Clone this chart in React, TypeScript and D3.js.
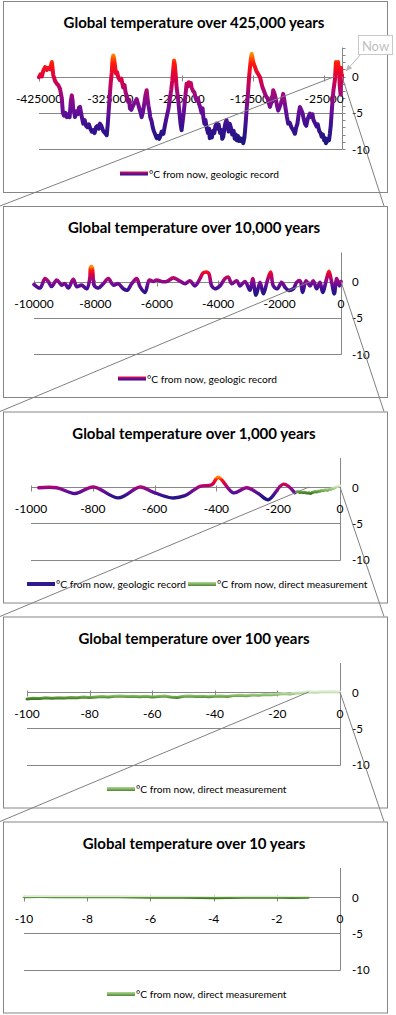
import React from "react";
import * as d3 from "d3";

// ---- data: [years from now, °C from now] ----

// geologic record, 425,000 years
const vostokRecord: [number, number][] = [
  [-425000, -0.1], [-423000, 0.3], [-421000, 0.0], [-419000, 0.8], [-416500, 1.3], [-414000, 0.9],
  [-412000, 1.2], [-409500, 1.0], [-407000, 2.0], [-406000, 1.2], [-405000, 0.2], [-402500, -0.6],
  [-400000, -1.0], [-398000, -1.2], [-395500, -1.7], [-394000, -2.5], [-393000, -3.0], [-391500, -5.0],
  [-390000, -5.4], [-388000, -5.0], [-386000, -5.6], [-384000, -5.2], [-382000, -5.6], [-380500, -3.5],
  [-379000, -2.6], [-378000, -3.2], [-377000, -4.5], [-375500, -5.0], [-374500, -5.6], [-372500, -4.8],
  [-370500, -5.2], [-369000, -4.3], [-367500, -4.2], [-366000, -5.0], [-364500, -5.8], [-363000, -6.5],
  [-361000, -6.0], [-359000, -6.8], [-357000, -7.0], [-355000, -6.6], [-353000, -7.2], [-351000, -7.6],
  [-349000, -7.4], [-347000, -7.8], [-345000, -7.0], [-343000, -6.8], [-341000, -7.2], [-339500, -6.5],
  [-337500, -6.8], [-335000, -7.5], [-332500, -7.8], [-330000, -8.1], [-328500, -6.5], [-326000, -3.0],
  [-324500, -1.0], [-323000, 0.5], [-321800, 2.5], [-320800, 2.9], [-319500, 2.4], [-318500, 1.5],
  [-317000, 0.4], [-315500, 0.6], [-313500, -0.2], [-311500, -0.5], [-309500, -0.3], [-307000, -1.5],
  [-305000, -1.2], [-303500, -2.2], [-302000, -2.6], [-300000, -3.5], [-298500, -3.2], [-297500, -4.4],
  [-295500, -4.6], [-293000, -4.0], [-291000, -3.6], [-289500, -3.4], [-288000, -3.1], [-286000, -3.8],
  [-284000, -4.5], [-282500, -5.0], [-281000, -5.6], [-279000, -4.8], [-277000, -3.5], [-275500, -2.5],
  [-274000, -1.9], [-272800, -3.0], [-271500, -4.0], [-270000, -4.8], [-269000, -5.6], [-267000, -6.2],
  [-265500, -7.0], [-264000, -7.5], [-262000, -8.0], [-260000, -8.5], [-258000, -8.2], [-256500, -8.6],
  [-255000, -8.3], [-253000, -7.6], [-250500, -7.9], [-248500, -6.8], [-246000, -5.6], [-243500, -4.5],
  [-241000, -2.8], [-239500, -1.8], [-238000, -0.5], [-236500, 1.2], [-235500, 2.2], [-234500, 1.6],
  [-233500, 0.5], [-232000, -1.5], [-230000, -3.0], [-228000, -5.0], [-226500, -6.5], [-225000, -7.4],
  [-223500, -6.2], [-222000, -5.0], [-221000, -4.0], [-219500, -2.5], [-218000, -1.0], [-216500, -1.4],
  [-215000, -0.8], [-213500, -1.2], [-212000, -0.9], [-211000, -1.5], [-209000, -2.0], [-207000, -2.2],
  [-205500, -2.9], [-204000, -3.3], [-202000, -3.0], [-200500, -3.8], [-199000, -4.2], [-197000, -5.0],
  [-195500, -4.4], [-194500, -5.6], [-193000, -6.5], [-191500, -6.0], [-190000, -7.0], [-188000, -7.8],
  [-186500, -7.2], [-185500, -8.5], [-184000, -8.0], [-182500, -8.4], [-181000, -7.5], [-179000, -7.8],
  [-177500, -6.8], [-176000, -6.5], [-174500, -7.2], [-173000, -6.6], [-171000, -7.8], [-169000, -7.4],
  [-168000, -8.6], [-166500, -8.3], [-165000, -7.2], [-163500, -6.4], [-162000, -6.0], [-160500, -6.8],
  [-159000, -7.6], [-157500, -6.5], [-156000, -7.0], [-154000, -8.0], [-152000, -7.5], [-150500, -8.6],
  [-149000, -8.0], [-147500, -8.8], [-146000, -8.2], [-144500, -8.9], [-143000, -8.5], [-141000, -8.9],
  [-139500, -8.6], [-138500, -9.2], [-137000, -8.5], [-136000, -7.5], [-134800, -6.0], [-133500, -4.2],
  [-132000, -2.5], [-131000, -1.0], [-130000, 0.3], [-129000, 1.3], [-127800, 2.5], [-126700, 3.1],
  [-125600, 2.6], [-124500, 2.0], [-123200, 1.6], [-122000, 1.3], [-120300, 0.8], [-118500, 0.5],
  [-116800, 0.2], [-115000, -0.1], [-113300, -0.8], [-111500, -1.5], [-109800, -1.9], [-108000, -2.4],
  [-106200, -2.8], [-104500, -3.0], [-102800, -3.6], [-101000, -4.2], [-99800, -3.8], [-98500, -3.5],
  [-97500, -2.8], [-96500, -1.9], [-94800, -2.3], [-93000, -3.0], [-91200, -4.0], [-89500, -4.7],
  [-87800, -4.3], [-86000, -3.8], [-84200, -3.2], [-82500, -2.4], [-80800, -3.3], [-79000, -4.5],
  [-77200, -5.6], [-75500, -6.5], [-73200, -6.4], [-71000, -7.0], [-68500, -7.4], [-66000, -7.9],
  [-64200, -7.0], [-62500, -6.5], [-60800, -5.2], [-59000, -4.2], [-57200, -4.6], [-55500, -5.0],
  [-53800, -5.8], [-52000, -6.5], [-50200, -6.8], [-48500, -6.0], [-46800, -5.5], [-45000, -5.1],
  [-43000, -5.6], [-41500, -5.2], [-40000, -6.0], [-38000, -6.4], [-35500, -6.9], [-34000, -6.6],
  [-32000, -7.5], [-30000, -7.8], [-28500, -8.3], [-26800, -8.0], [-25000, -8.8], [-23800, -8.5],
  [-22500, -9.2], [-21000, -8.9], [-19500, -8.6], [-18200, -8.8], [-17000, -7.9], [-15800, -6.8],
  [-14500, -5.0], [-13200, -3.2], [-12000, -1.9], [-11000, -1.2], [-10000, -0.5], [-9200, 0.8],
  [-8500, 2.0], [-7800, 1.6], [-7000, 1.0], [-6200, 1.5], [-5500, 2.0], [-4800, 1.2],
  [-4000, 0.5], [-3000, -1.5], [-2000, -2.5], [-1200, 1.2], [-500, -0.8], [0, 0.2],
];

// geologic record, 10,000 years
const holoceneRecord: [number, number][] = [
  [-10000, -0.4], [-9805, -0.9], [-9642, 0.4], [-9534, 0.0], [-9425, -0.7], [-9262, 0.2], [-9100, -0.5],
  [-8990, -0.3], [-8883, -0.9], [-8720, 0.3], [-8610, -0.7], [-8447, -0.5], [-8283, -1.0], [-8180, 0.5],
  [-8153, 2.0], [-8111, 2.0], [-8070, 0.3], [-8046, -0.5], [-7905, -0.9], [-7742, -0.3], [-7580, 0.4],
  [-7417, -0.5], [-7254, -0.3], [-7091, -1.0], [-6961, -1.2], [-6818, -0.3], [-6655, 0.4], [-6547, -0.7],
  [-6384, -1.5], [-6244, 0.2], [-6114, 0.0], [-6005, 0.2], [-5842, 0.0], [-5679, 0.0], [-5462, 0.5],
  [-5300, 0.2], [-5081, -0.3], [-4919, 0.1], [-4756, -0.6], [-4593, 0.4], [-4485, 1.2], [-4322, 1.2],
  [-4213, -0.6], [-4104, -1.0], [-3941, -0.6], [-3779, 0.4], [-3670, 0.6], [-3561, -0.3], [-3398, 0.1],
  [-3290, -0.6], [-3127, 0.0], [-2964, -1.2], [-2876, 0.4], [-2769, -1.9], [-2638, -0.1], [-2530, -1.7],
  [-2400, 0.1], [-2291, 1.3], [-2204, -0.6], [-2074, -1.0], [-1932, -0.1], [-1824, -0.8], [-1716, -1.2],
  [-1553, -1.0], [-1444, -0.1], [-1336, 0.1], [-1249, -1.5], [-1140, 0.1], [-1010, -0.6], [-902, 0.1],
  [-793, -1.0], [-684, -0.1], [-597, -1.5], [-467, 0.4], [-391, 1.4], [-304, -0.1], [-218, -1.7],
  [-141, 0.4], [-54, -0.6], [0, 0.0],
];

// geologic record, 1,000 years
const millenniumRecord: [number, number][] = [
  [-975, -0.1], [-917, -0.1], [-858, -0.9], [-798, 0.0], [-717, -1.5], [-647, 0.0], [-605, -0.7],
  [-545, -1.5], [-502, -1.2], [-453, 0.1], [-415, 0.3], [-394, 1.35], [-345, -0.8], [-302, -0.1],
  [-264, -0.9], [-232, -1.75], [-183, 0.4], [-146, -0.8],
];

// direct measurement, ~140 years
const instrumentRecord: [number, number][] = [
  [-140, -0.65], [-135, -0.62], [-130, -0.75], [-125, -0.7], [-120, -0.78], [-115, -0.72], [-110, -0.8],
  [-105, -0.85], [-100, -0.8], [-95, -0.9], [-90, -0.75], [-85, -0.7], [-80, -0.62], [-75, -0.68],
  [-70, -0.55], [-65, -0.58], [-60, -0.45], [-55, -0.5], [-50, -0.42], [-45, -0.38], [-40, -0.45],
  [-35, -0.3], [-30, -0.32], [-25, -0.2], [-20, -0.18], [-15, -0.05], [-10, 0.05], [-5, 0.1], [0, 0.15],
];

// direct measurement, 100 years
const centuryRecord: [number, number][] = [
  [-100, -0.95], [-98, -0.85], [-96, -0.9], [-94, -0.8], [-92, -0.85], [-90, -0.78], [-88, -0.82],
  [-86, -0.75], [-84, -0.8], [-82, -0.7], [-80, -0.76], [-78, -0.68], [-76, -0.62], [-74, -0.7],
  [-72, -0.6], [-70, -0.55], [-68, -0.62], [-66, -0.58], [-64, -0.65], [-62, -0.6], [-60, -0.7],
  [-58, -0.62], [-56, -0.55], [-54, -0.68], [-52, -0.75], [-50, -0.6], [-48, -0.55], [-46, -0.62],
  [-44, -0.58], [-42, -0.66], [-40, -0.6], [-38, -0.55], [-36, -0.62], [-34, -0.5], [-32, -0.45],
  [-30, -0.52], [-28, -0.4], [-26, -0.45], [-24, -0.35], [-22, -0.38], [-20, -0.3], [-18, -0.22],
  [-16, -0.28], [-14, -0.15], [-12, -0.1], [-10, 0.02], [-8, -0.05], [-6, 0.05], [-4, 0.02],
  [-2, 0.06], [0, 0.0],
];

// direct measurement, 10 years
const decadeRecord: [number, number][] = [
  [-10, 0.05], [-9.5, 0.06], [-9, 0.05], [-8.5, 0.04], [-8, 0.03], [-7.5, 0.04], [-7, 0.02],
  [-6.5, 0.0], [-6, -0.02], [-5.5, -0.03], [-5, -0.05], [-4.5, -0.08], [-4, -0.1], [-3.5, -0.06],
  [-3, -0.03], [-2.5, -0.02], [-2, -0.04], [-1.5, -0.06], [-1, -0.05],
];

const titles = [
  "Global temperature over 425,000 years",
  "Global temperature over 10,000 years",
  "Global temperature over 1,000 years",
  "Global temperature over 100 years",
  "Global temperature over 10 years",
];
const xDomains = [[-425000, 0], [-10000, 0], [-1000, 0], [-100, 0], [-10, 0]];
const xTickValues = [
  [-425000, -325000, -225000, -125000, -25000],
  [-10000, -8000, -6000, -4000, -2000, 0],
  [-1000, -800, -600, -400, -200, 0],
  [-100, -80, -60, -40, -20, 0],
  [-10, -8, -6, -4, -2, 0],
];
const yDomain = [-10, 4];
const yTickValues = [0, -5, -10];
const zoomFrom = [-10000, -1000, -100, -10];
const geoLabel = "°C from now, geologic record";
const directLabel = "°C from now, direct measurement";

// ---- layout ----
const W = 396;
const H = 1015;
const FONT = "Lato, 'Open Sans', sans-serif";
const panelTops = [1, 206, 411.5, 616.5, 821.5];
const panelLeft = 3.5;
const panelW = 384;
const panelH = 191;
const plotLefts = [39, 34, 31, 27, 24];
const plotRights = [342, 341, 340, 340, 340];
const legendX = [[120], [118], [27, 188], [107], [107]];
const gridColor = "#868686";

type Series = { kind: "geo" | "direct"; data: [number, number][]; smooth: boolean; width: number };

const panelSeries: Series[][] = [
  [{ kind: "geo", data: vostokRecord, smooth: false, width: 4 }],
  [{ kind: "geo", data: holoceneRecord, smooth: true, width: 3.6 }],
  [
    { kind: "geo", data: millenniumRecord, smooth: true, width: 3.4 },
    { kind: "direct", data: instrumentRecord, smooth: false, width: 3 },
  ],
  [{ kind: "direct", data: centuryRecord, smooth: false, width: 3 }],
  [{ kind: "direct", data: decadeRecord, smooth: false, width: 3 }],
];

const geoStops: [number, string][] = [
  [0, "#ff8a00"],
  [0.1, "#ff1a0a"],
  [0.25, "#e0003c"],
  [0.45, "#a0087e"],
  [0.62, "#6a0c98"],
  [0.8, "#3a1090"],
  [1, "#1c1680"],
];
const directStops: [number, string][] = [
  [0, "#dcebd2"],
  [0.5, "#8cc06a"],
  [1, "#3e7b1f"],
];

const crisp = (v: number) => Math.round(v) + 0.5;

const scalesFor = (i: number) => {
  const T = panelTops[i];
  const x = d3.scaleLinear().domain(xDomains[i]).range([plotLefts[i], plotRights[i]]);
  const y = d3.scaleLinear().domain(yDomain).range([T + 148, T + 46.5]);
  return { T, x, y };
};

function Panel({ i }: { i: number }) {
  const { T, x, y } = scalesFor(i);
  const y0 = crisp(y(0));
  const xr = crisp(x(0));
  const legendY = T + 172.5;

  return (
    <g>
      <rect x={panelLeft} y={T + 0.5} width={panelW} height={panelH} fill="#fff" stroke={gridColor} />
      <text x={194} y={T + 21} textAnchor="middle" dominantBaseline="central"
        fontFamily={FONT} fontWeight={700} fontSize={15}>{titles[i]}</text>

      {/* gridlines */}
      {yTickValues.map((v) => (
        <line key={v} x1={x.range()[0]} x2={xr} y1={crisp(y(v))} y2={crisp(y(v))} stroke={gridColor} />
      ))}
      {/* value axis on the right */}
      <line x1={xr} x2={xr} y1={y(yDomain[1])} y2={crisp(y(-10))} stroke={gridColor} />
      {i === 0 && d3.range(yDomain[0], yDomain[1] + 1).map((v) => (
        <line key={v} x1={xr} x2={xr + 3} y1={crisp(y(v))} y2={crisp(y(v))} stroke={gridColor} />
      ))}
      {yTickValues.map((v) => (
        <text key={v} x={352} y={y(v)} dominantBaseline="central" fontFamily={FONT} fontSize={11.5}>{v}</text>
      ))}
      {/* time axis */}
      {xTickValues[i].map((v) => (
        <g key={v}>
          <line x1={crisp(x(v))} x2={crisp(x(v))} y1={y0 - 2} y2={y0 + 4} stroke={gridColor} />
          <text x={x(v)} y={y0 + 21} textAnchor="middle" dominantBaseline="central" fontFamily={FONT} fontSize={12}>{v}</text>
        </g>
      ))}

      {/* series */}
      {panelSeries[i].map((s, k) => {
        const id = `grad-${i}-${k}`;
        const [lo, hi] = d3.extent(s.data, (d) => d[1]) as [number, number];
        const line = d3.line<[number, number]>()
          .x((d) => x(d[0]))
          .y((d) => y(d[1]))
          .curve(s.smooth ? d3.curveCatmullRom : d3.curveLinear);
        const stops = s.kind === "geo" ? geoStops : directStops;
        return (
          <g key={k}>
            <defs>
              <linearGradient id={id} gradientUnits="userSpaceOnUse" x1={0} x2={0} y1={y(hi)} y2={y(lo) + 0.01}>
                {stops.map(([o, c]) => <stop key={o} offset={o} stopColor={c} />)}
              </linearGradient>
            </defs>
            <path d={line(s.data) ?? ""} fill="none" stroke={`url(#${id})`}
              strokeWidth={s.width} strokeLinejoin="round" strokeLinecap="round" />
          </g>
        );
      })}

      {/* legend */}
      {panelSeries[i].map((s, k) => (
        <g key={k}>
          <rect x={legendX[i][k]} y={legendY - 2} width={28} height={4}
            fill={s.kind === "direct" ? "url(#legend-direct)" : i === 2 ? "#2e1a8c" : "url(#legend-geo)"} />
          <text x={legendX[i][k] + 29} y={legendY} dominantBaseline="central" fontFamily={FONT} fontSize={10.2}>
            {s.kind === "geo" ? geoLabel : directLabel}
          </text>
        </g>
      ))}
    </g>
  );
}

function Connectors({ i }: { i: number }) {
  const { x, y } = scalesFor(i);
  const next = panelTops[i + 1];
  return (
    <g stroke="#808080" strokeWidth={1}>
      <line x1={x(zoomFrom[i])} y1={y(0)} x2={0} y2={next} />
      <line x1={x(0)} y1={y(0)} x2={384} y2={next} />
    </g>
  );
}

export default function App() {
  return (
    <div style={{ position: "absolute", left: 0, top: 0 }}>
      <svg width={W} height={H} style={{ display: "block", background: "#fff" }}>
        <defs>
          <linearGradient id="legend-geo" x1="0" x2="0" y1="0" y2="1">
            <stop offset="0" stopColor="#e8103a" />
            <stop offset="0.5" stopColor="#7a0a90" />
            <stop offset="1" stopColor="#2a0e8a" />
          </linearGradient>
          <linearGradient id="legend-direct" x1="0" x2="0" y1="0" y2="1">
            <stop offset="0" stopColor="#b5d69c" />
            <stop offset="1" stopColor="#4e8a2e" />
          </linearGradient>
          <marker id="arrow" viewBox="0 0 10 10" refX="9" refY="5" markerWidth="7" markerHeight="7" orient="auto">
            <path d="M0,1 L10,5 L0,9 z" fill="#b8b8b8" />
          </marker>
        </defs>
        {titles.map((_, i) => (
          <g key={i}>
            <Panel i={i} />
            {i < titles.length - 1 && <Connectors i={i} />}
            {i === 0 && (
              <g>
                <line x1={361} y1={54} x2={346} y2={71} stroke="#b8b8b8" markerEnd="url(#arrow)" />
                <rect x={358.5} y={35.5} width={34} height={19} fill="#fff" stroke="#c8c8c8" />
                <text x={375.5} y={45.5} textAnchor="middle" dominantBaseline="central"
                  fontFamily={FONT} fontSize={13} fill="#bfbfbf">Now</text>
              </g>
            )}
          </g>
        ))}
      </svg>
    </div>
  );
}
